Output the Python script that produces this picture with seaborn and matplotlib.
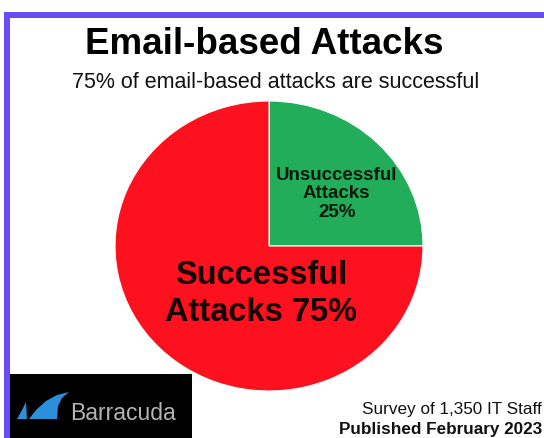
import matplotlib
matplotlib.use('Agg')
import matplotlib.pyplot as plt
import matplotlib.patches as mpatches
import seaborn as sns

# data
categories = ['Unsuccessful\nAttacks\n25%', 'Successful\nAttacks 75%']
shares = [25, 75]
slice_colors = ['#22ad5a', '#fe111f']

title = 'Email-based Attacks'
subtitle = '75% of email-based attacks are successful'
footer_1 = 'Survey of 1,350 IT Staff'
footer_2 = 'Published February 2023'

sns.set_theme(style='white')
plt.rcParams['font.family'] = ['Liberation Sans', 'DejaVu Sans']

W, H = 544, 438
fig = plt.figure(figsize=(W / 100, H / 100), dpi=100)
fig.patch.set_facecolor('white')

def fx(px):
    return px / W

def fy(py):
    return 1 - py / H

def box(x0, y0, x1, y1, color):
    # rectangle in pixel coords measured from the top-left corner
    r = mpatches.Rectangle((fx(x0), fy(y1)), fx(x1 - x0), (y1 - y0) / H,
                           transform=fig.transFigure, facecolor=color,
                           edgecolor='none')
    fig.patches.append(r)

# pie (slightly elliptical, like the original)
ax = fig.add_axes([fx(115), fy(391), 308 / W, 290 / H])
wedges, _ = ax.pie(shares, colors=slice_colors, startangle=90, counterclock=False,
                   wedgeprops=dict(edgecolor='white', linewidth=0.8))
ax.set_aspect('auto')
ax.set_xlim(-1, 1)
ax.set_ylim(-1, 1)
ax.axis('off')

ax.text(0.44, 0.36, categories[0], ha='center', va='center', fontsize=13.5,
        fontweight='bold', color='#0c1a0c', linespacing=1.12)
ax.text(-0.05, -0.33, categories[1], ha='center', va='center', fontsize=23.5,
        fontweight='bold', color='#160404', linespacing=1.25)

# titles
fig.text(fx(264), fy(54), title, ha='center', va='baseline', fontsize=26.5,
         fontweight='bold', color='#000000')
fig.text(fx(276), fy(88), subtitle, ha='center', va='baseline', fontsize=15.5,
         color='#111111')

# footer
fig.text(fx(542), fy(414), footer_1, ha='right', va='baseline', fontsize=12.3,
         color='#111111')
fig.text(fx(542), fy(434), footer_2, ha='right', va='baseline', fontsize=12.3,
         fontweight='bold', color='#111111')

# purple frame: top and left bars
box(4, 12, 544, 18, '#6a4cf6')
box(4, 12, 10, 438, '#6a4cf6')

# logo box
box(10, 374, 192, 438, '#000000')
fin_big = [(29, 419), (36, 410), (46, 401), (57, 395), (69, 392), (62, 398),
           (58, 406), (57, 419)]
fin_small = [(17, 419), (22, 410), (26, 402), (27, 419)]
for pts in (fin_big, fin_small):
    poly = mpatches.Polygon([(fx(x), fy(y)) for x, y in pts], closed=True,
                            transform=fig.transFigure, facecolor='#2b8fdc',
                            edgecolor='none')
    fig.patches.append(poly)
fig.text(fx(70), fy(413), 'Barracuda', ha='left', va='center', fontsize=16.5,
         color='#b4b4b4')

fig.savefig('out.png', dpi=100)
